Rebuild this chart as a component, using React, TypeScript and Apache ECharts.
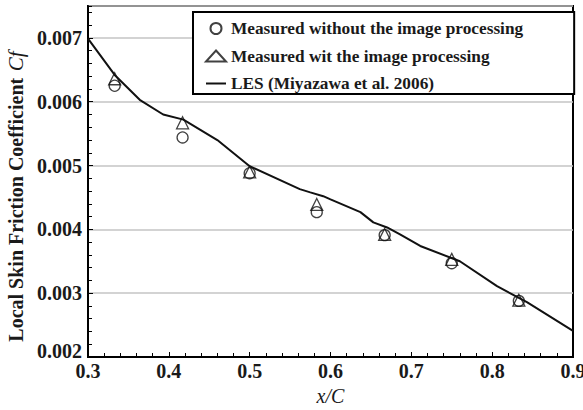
import React, { useEffect, useRef } from "react";
import * as echarts from "echarts";

const xMeasured = [0.333, 0.417, 0.5, 0.583, 0.667, 0.75, 0.833];
const cfWithout = [0.00625, 0.00544, 0.00488, 0.00427, 0.00391, 0.00347, 0.00288];
const cfWith = [0.00636, 0.00567, 0.0049, 0.00439, 0.00392, 0.00353, 0.00289];

const lesX = [0.3, 0.333, 0.364, 0.393, 0.418, 0.439, 0.46, 0.5, 0.562, 0.575, 0.591, 0.6, 0.637, 0.653, 0.67, 0.686, 0.711, 0.76, 0.806, 0.843, 0.9];
const lesY = [0.00699, 0.00642, 0.00603, 0.0058, 0.00572, 0.00556, 0.0054, 0.00499, 0.00463, 0.00458, 0.00452, 0.00447, 0.00427, 0.00411, 0.00403, 0.00392, 0.00374, 0.0035, 0.00311, 0.00286, 0.00241];

const seriesNames = [
  "Measured without the image processing",
  "Measured wit the image processing",
  "LES (Miyazawa et al. 2006)",
];

const FONT = "'Liberation Serif', 'Times New Roman', serif";
const INK = "#1a1a1a";
const Y_MIN = 0.002;

export default function App() {
  const ref = useRef<HTMLDivElement>(null);
  useEffect(() => {
    if (!ref.current) return;
    const chart = echarts.init(ref.current, undefined, { renderer: "svg" });
    chart.setOption({
      animation: false,
      backgroundColor: "#fff",
      grid: {
        left: 88,
        right: 10,
        top: 6,
        bottom: 53,
        outerBoundsMode: "none",
        containLabel: false,
        show: true,
        borderColor: "#000",
        borderWidth: 2,
        backgroundColor: "transparent",
      },
      legend: {
        orient: "vertical",
        left: 193,
        top: 12,
        data: [
          { name: seriesNames[0] },
          { name: seriesNames[1] },
          { name: seriesNames[2], icon: "path://M0,0H20V2H0Z", itemStyle: { color: "#111" } },
        ],
        itemWidth: 20,
        itemHeight: 11,
        itemGap: 10.5,
        padding: [8, 51, 2, 12],
        backgroundColor: "#fff",
        borderColor: "#000",
        borderWidth: 2,
        textStyle: { fontFamily: FONT, fontWeight: "bold", fontSize: 17.3, color: INK },
      },
      xAxis: {
        type: "value",
        min: 0.3,
        max: 0.9,
        interval: 0.1,
        name: "x/C",
        nameLocation: "middle",
        nameGap: 28,
        nameTextStyle: { fontFamily: FONT, fontStyle: "italic", fontSize: 20, color: INK },
        axisLine: { show: true, lineStyle: { color: "#000", width: 2 } },
        axisTick: { show: true, inside: true, length: 5, lineStyle: { color: "#000", width: 1 } },
        minorTick: { show: true, splitNumber: 5, length: 4, lineStyle: { color: "#000", width: 1 } },
        splitLine: { show: false },
        axisLabel: {
          fontFamily: FONT,
          fontWeight: "bold",
          fontSize: 20,
          color: INK,
          margin: 4,
          formatter: (v: number) => v.toFixed(1),
        },
      },
      yAxis: [
        {
          type: "value",
          min: Y_MIN,
          max: 0.0075,
          interval: 0.001,
          name: "{a|Local Skin Friction Coefficient}  {b|Cf}",
          nameLocation: "middle",
          nameGap: 61,
          nameTextStyle: {
            padding: [0, 30, 0, 0],
            rich: {
              a: { fontFamily: FONT, fontWeight: "bold", fontSize: 20, color: INK },
              b: { fontFamily: FONT, fontStyle: "italic", fontSize: 21, color: INK },
            },
          },
          axisLine: { show: true, lineStyle: { color: "#000", width: 2 } },
          axisTick: { show: true, inside: true, length: 5, lineStyle: { color: "#000", width: 1 } },
          splitLine: { show: true, lineStyle: { color: "#c4c4c4", width: 1.5 } },
          axisLabel: {
            showMaxLabel: false,
            fontFamily: FONT,
            fontWeight: "bold",
            fontSize: 20,
            color: INK,
            margin: 6,
            formatter: (v: number) =>
              Math.abs(v - Y_MIN) < 1e-9 ? `{lo|${v.toFixed(3)}}` : v.toFixed(3),
            rich: {
              lo: {
                fontFamily: FONT,
                fontWeight: "bold",
                fontSize: 20,
                color: INK,
                padding: [0, 0, 12, 0],
              },
            },
          },
        },
        {
          type: "value",
          min: Y_MIN,
          max: 0.0075,
          interval: 0.0002,
          position: "left",
          axisLine: { show: false },
          axisTick: { show: true, inside: true, length: 4, lineStyle: { color: "#000", width: 1 } },
          splitLine: { show: false },
          axisLabel: { show: false },
        },
      ],
      series: [
        {
          name: seriesNames[0],
          type: "scatter",
          symbol: "circle",
          symbolSize: 11,
          itemStyle: { color: "rgba(255,255,255,0)", borderColor: "#111", borderWidth: 1.3 },
          data: xMeasured.map((x, i) => [x, cfWithout[i]]),
          z: 3,
        },
        {
          name: seriesNames[1],
          type: "scatter",
          symbol: "triangle",
          symbolSize: 12,
          itemStyle: { color: "rgba(255,255,255,0)", borderColor: "#111", borderWidth: 1.3 },
          data: xMeasured.map((x, i) => [x, cfWith[i]]),
          z: 3,
        },
        {
          name: seriesNames[2],
          type: "line",
          symbol: "none",
          color: "#111",
          lineStyle: { color: "#111", width: 2 },
          data: lesX.map((x, i) => [x, lesY[i]]),
          z: 2,
        },
      ],
    });
    return () => chart.dispose();
  }, []);
  return <div ref={ref} style={{ width: 583, height: 410, position: "absolute", left: 0, top: 0 }} />;
}
